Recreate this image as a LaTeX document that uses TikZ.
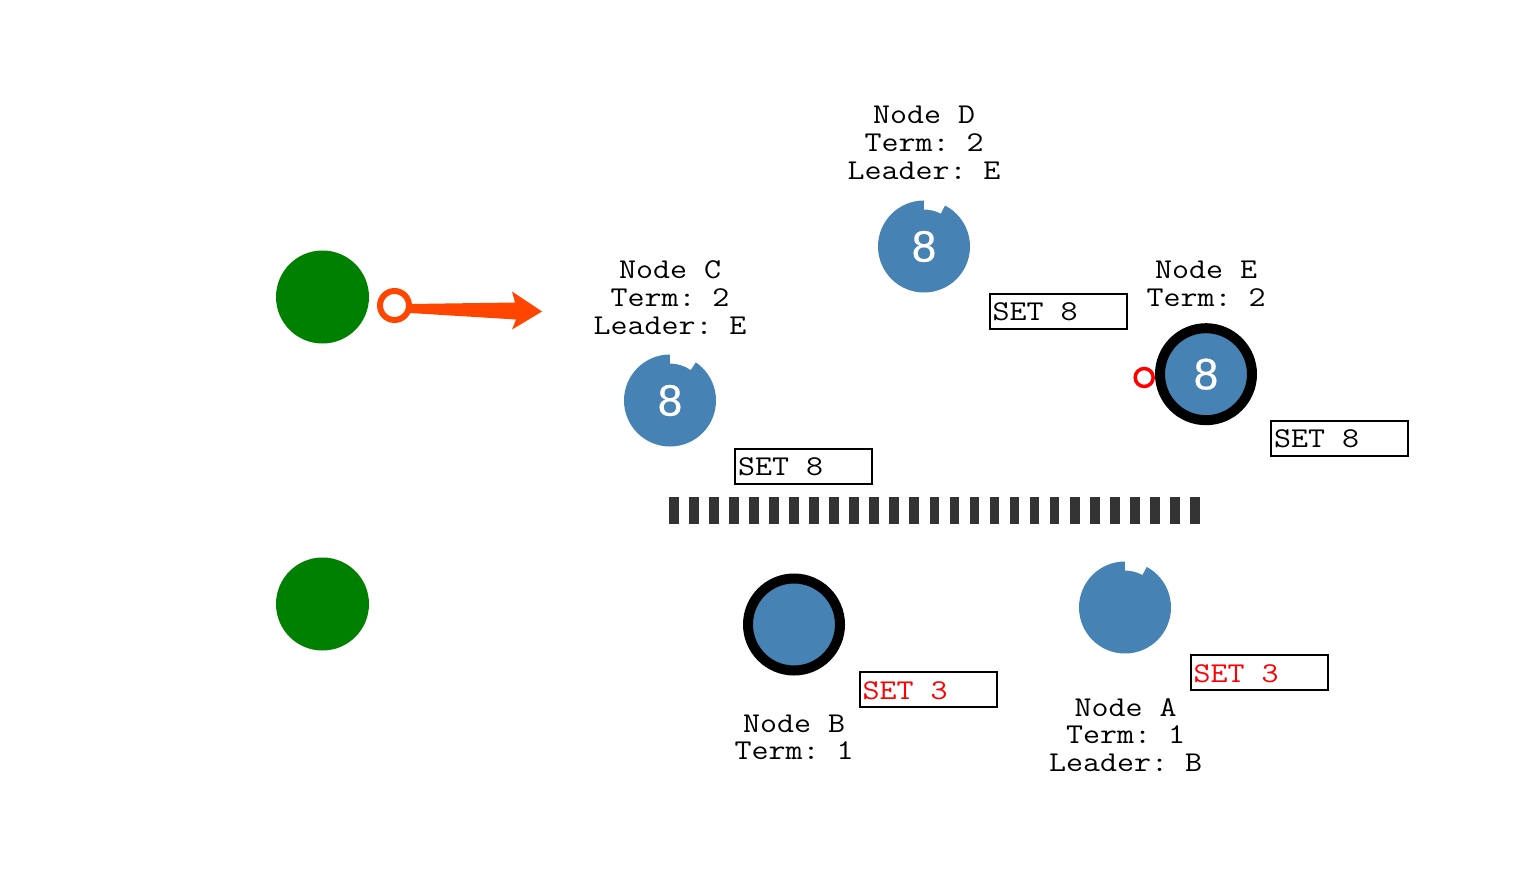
\documentclass[tikz,border=0pt]{standalone}
\usepackage{fontspec}
\setmonofont{Latin Modern Mono}[FakeStretch=1.15]
\newfontfamily\digitfont{Liberation Sans}[FakeBold=0.6]
\usetikzlibrary{calc}
\definecolor{steel}{HTML}{4682B4}
\definecolor{grn}{HTML}{008000}
\definecolor{ored}{HTML}{FF4500}
\definecolor{rd}{HTML}{FF0000}
\definecolor{dashgray}{HTML}{333333}
\newcommand\mynotch[2]{%
  \fill[white] ($(#1.center)+(-90:48)$) arc[start angle=-90, end angle={-90+#2}, radius=48]
    -- ($(#1.center)+({-90+#2}:37)$) arc[start angle={-90+#2}, end angle=-90, radius=37] -- cycle;}
\begin{document}
\begin{tikzpicture}[x=1pt,y=-1pt,
  greenball/.style={circle, fill=grn, minimum size=93pt, inner sep=0pt},
  raftnode/.style={circle, fill=steel, minimum size=92pt, inner sep=0pt, text=white,
    font=\digitfont\fontsize{44}{50}\selectfont},
  leadernode/.style={raftnode, draw=black, line width=10pt},
  lbl/.style={font=\ttfamily\fontsize{28.7}{27}\selectfont, inner sep=0pt, anchor=base},
  setbox/.style={draw=black, line width=2pt, minimum width=137pt, minimum height=35pt,
    inner sep=0pt, outer sep=0pt},
  settext/.style={font=\ttfamily\fontsize{28.7}{27}\selectfont, inner sep=0pt, anchor=base west},
  ring/.style={circle, draw=#1, inner sep=0pt},
]
\useasboundingbox (0,0) rectangle (1532,894);

% clients
\node[greenball] (g1) at (322.5,297) {};
\node[greenball] (g2) at (322.5,604) {};

% request ring and arrow
\node[ring=ored, line width=6pt, minimum size=29pt] (req) at (394.5,305.5) {};
\coordinate (tip) at (542,311.5);
\fill[ored] ($(req.east)+(-2,-1.5)$) -- ($(tip)+(-27,-9)$) -- ($(tip)+(-30,-20)$) -- (tip)
  -- ($(tip)+(-30,18)$) -- ($(tip)+(-26,8)$) -- ($(req.east)+(-2,7.5)$) -- cycle;

% Node C
\node[raftnode] (C) at (670,400.5) {8};
\mynotch{C}{34}
\node[lbl] (C1) at (670,278) {Node C};
\node[lbl] (C2) at (670,306) {Term: 2};
\node[lbl] (C3) at (670,334) {Leader: E};
\node[setbox] (sC) at (803.5,466) {};
\node[settext] (sCt) at ($(sC.west)+(3,9.5)$) {SET 8};

% Node D
\node[raftnode] (D) at (924,246.5) {8};
\mynotch{D}{27}
\node[lbl] (D1) at (924,123.5) {Node D};
\node[lbl] (D2) at (924,151) {Term: 2};
\node[lbl] (D3) at (924,179) {Leader: E};
\node[setbox] (sD) at (1058,311) {};
\node[settext] (sDt) at ($(sD.west)+(3,9.5)$) {SET 8};

% Node E (leader)
\node[leadernode] (E) at (1206,374.2) {8};
\node[lbl] (E1) at (1206,278) {Node E};
\node[lbl] (E2) at (1206,306) {Term: 2};
\node[ring=rd, line width=3.5pt, minimum size=18pt] (eR) at (1144.2,377.5) {};
\node[setbox] (sE) at (1339.5,438.3) {};
\node[settext] (sEt) at ($(sE.west)+(3,9.5)$) {SET 8};

% partition
\coordinate (p1) at (669,510.8);
\coordinate (p2) at (1200,510.8);
\draw[dashgray, line width=27pt, dash pattern=on 9.7pt off 10.34pt] (p1) -- (p2);

% Node B (leader)
\node[leadernode] (B) at (794,624.5) {};
\node[lbl] (B1) at (794,732) {Node B};
\node[lbl] (B2) at (794,759.5) {Term: 1};
\node[setbox] (sB) at (928,689.5) {};
\node[settext, text=rd] (sBt) at ($(sB.west)+(3,9.5)$) {SET 3};

% Node A
\node[raftnode] (A) at (1125,607.5) {};
\mynotch{A}{28}
\node[lbl] (A1) at (1125.5,716) {Node A};
\node[lbl] (A2) at (1125.5,743.5) {Term: 1};
\node[lbl] (A3) at (1125.5,771) {Leader: B};
\node[setbox] (sA) at (1259,672.5) {};
\node[settext, text=rd] (sAt) at ($(sA.west)+(3,9.5)$) {SET 3};
\end{tikzpicture}
\end{document}
